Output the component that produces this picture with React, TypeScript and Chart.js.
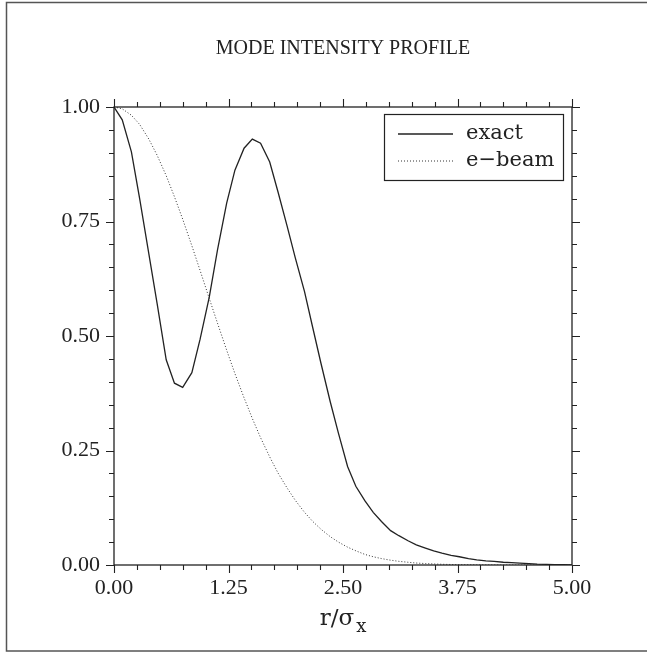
import React, { useEffect, useRef } from "react";
import { Chart, registerables } from "chart.js";

Chart.register(...registerables);

// ---- data ----
const rValues = [
  0.0, 0.09, 0.19, 0.28, 0.38, 0.47, 0.57, 0.66, 0.75, 0.85, 0.94, 1.04, 1.13, 1.23,
  1.32, 1.42, 1.51, 1.6, 1.7, 1.79, 1.89, 1.98, 2.08, 2.17, 2.26, 2.36, 2.45, 2.55,
  2.64, 2.74, 2.83, 2.92, 3.02, 3.11, 3.21, 3.3, 3.4, 3.49, 3.58, 3.68, 3.77, 3.87,
  3.96, 4.06, 4.15, 4.25, 4.34, 4.43, 4.53, 4.62, 4.72, 4.81, 4.91, 5.0,
];

const exactValues = [
  1.0, 0.972, 0.902, 0.8, 0.68, 0.572, 0.448, 0.397, 0.388, 0.42, 0.493, 0.585, 0.688, 0.79,
  0.862, 0.91, 0.93, 0.921, 0.88, 0.815, 0.74, 0.67, 0.597, 0.518, 0.44, 0.357, 0.288, 0.215,
  0.172, 0.14, 0.115, 0.095, 0.075, 0.064, 0.053, 0.044, 0.037, 0.031, 0.026, 0.021, 0.018, 0.014,
  0.011, 0.009, 0.008, 0.006, 0.005, 0.004, 0.003, 0.002, 0.0015, 0.001, 0.0005, 0.0,
];

const ebeamValues = [
  1.0, 0.996, 0.982, 0.962, 0.93, 0.895, 0.85, 0.804, 0.755, 0.697, 0.643, 0.582, 0.528, 0.469,
  0.418, 0.365, 0.32, 0.278, 0.236, 0.201, 0.168, 0.141, 0.115, 0.095, 0.078, 0.062, 0.05, 0.039,
  0.031, 0.023, 0.018, 0.014, 0.0105, 0.008, 0.006, 0.0043, 0.0031, 0.0023, 0.0016, 0.0011, 0.0008, 0.0006,
  0.0004, 0.0003, 0.0002, 0.0001, 0.0001, 0.0, 0.0, 0.0, 0.0, 0.0, 0.0, 0.0,
];

const xTickLabels = ["0.00", "1.25", "2.50", "3.75", "5.00"];
const yTickLabels = ["0.00", "0.25", "0.50", "0.75", "1.00"];
const seriesLabels = ["exact", "e\u2212beam"];
const titleText = "MODE INTENSITY PROFILE";
const xAxisMain = "r/\u03c3";
const xAxisSub = "x";

const INK = "#222222";
const LEGEND_FONT = "21px 'DejaVu Serif'";
const TITLE_FONT = "20px 'Liberation Serif'";

const decorPlugin = {
  id: "decor",
  afterDraw(chart: any) {
    const ctx: CanvasRenderingContext2D = chart.ctx;
    const { left, right, top, bottom } = chart.chartArea;
    const xs = chart.scales.x;
    const ys = chart.scales.y;
    ctx.save();

    // outer frame
    ctx.strokeStyle = "#555";
    ctx.lineWidth = 1.5;
    ctx.strokeRect(6.5, 2.5, 700, 648.5);

    // plot frame
    ctx.strokeStyle = INK;
    ctx.lineWidth = 1.3;
    ctx.strokeRect(left, top, right - left, bottom - top);

    // ticks (outward), major every 5th
    ctx.lineWidth = 1.1;
    ctx.beginPath();
    for (let i = 0; i <= 20; i++) {
      const v = xs.min + ((xs.max - xs.min) * i) / 20;
      const px = Math.round(xs.getPixelForValue(v)) + 0.5;
      const len = i % 5 === 0 ? 8 : 5;
      ctx.moveTo(px, bottom);
      ctx.lineTo(px, bottom + len);
      ctx.moveTo(px, top);
      ctx.lineTo(px, top - len);
    }
    for (let i = 0; i <= 20; i++) {
      const v = ys.min + ((ys.max - ys.min) * i) / 20;
      const py = Math.round(ys.getPixelForValue(v)) + 0.5;
      const len = i % 5 === 0 ? 8 : 5;
      ctx.moveTo(left, py);
      ctx.lineTo(left - len, py);
      ctx.moveTo(right, py);
      ctx.lineTo(right + len, py);
    }
    ctx.stroke();

    // title
    const cx = (left + right) / 2;
    ctx.fillStyle = INK;
    ctx.font = TITLE_FONT;
    ctx.textAlign = "center";
    ctx.textBaseline = "alphabetic";
    ctx.fillText(titleText, cx, 54);

    // x axis title with subscript
    ctx.font = "23px 'DejaVu Serif'";
    const wMain = ctx.measureText(xAxisMain).width;
    ctx.font = "18px 'DejaVu Serif'";
    const wSub = ctx.measureText(xAxisSub).width;
    const startX = cx - (wMain + wSub + 2) / 2;
    ctx.textAlign = "left";
    ctx.font = "23px 'DejaVu Serif'";
    ctx.fillText(xAxisMain, startX, 625);
    ctx.font = "18px 'DejaVu Serif'";
    ctx.fillText(xAxisSub, startX + wMain + 2, 632);

    // legend
    const bx = right - 8.5 - 179;
    const by = top + 7.5;
    ctx.fillStyle = "#ffffff";
    ctx.fillRect(bx, by, 179, 66);
    ctx.strokeStyle = INK;
    ctx.lineWidth = 1.2;
    ctx.strokeRect(bx, by, 179, 66);
    const ds = chart.data.datasets;
    const rowsY = [by + 19.5, by + 46.5];
    ds.forEach((d: any, i: number) => {
      ctx.save();
      ctx.strokeStyle = d.borderColor;
      ctx.lineWidth = d.borderWidth;
      ctx.setLineDash(d.borderDash || []);
      ctx.beginPath();
      ctx.moveTo(bx + 13.5, rowsY[i]);
      ctx.lineTo(bx + 68.5, rowsY[i]);
      ctx.stroke();
      ctx.restore();
      ctx.fillStyle = INK;
      ctx.font = LEGEND_FONT;
      ctx.textAlign = "left";
      ctx.textBaseline = "middle";
      ctx.fillText(d.label, bx + 81.5, rowsY[i]);
    });

    ctx.restore();
  },
};

export default function App() {
  const canvasRef = useRef<HTMLCanvasElement | null>(null);

  useEffect(() => {
    const canvas = canvasRef.current;
    if (!canvas) return;
    const chart = new Chart(canvas, {
      type: "line",
      data: {
        datasets: [
          {
            label: seriesLabels[0],
            data: rValues.map((r, i) => ({ x: r, y: exactValues[i] })),
            borderColor: INK,
            borderWidth: 1.3,
            pointRadius: 0,
            tension: 0,
            fill: false,
          },
          {
            label: seriesLabels[1],
            data: rValues.map((r, i) => ({ x: r, y: ebeamValues[i] })),
            borderColor: "#333333",
            borderWidth: 1,
            borderDash: [1, 2],
            pointRadius: 0,
            tension: 0,
            fill: false,
          },
        ],
      },
      options: {
        responsive: false,
        animation: false,
        devicePixelRatio: 1,
        layout: { padding: { left: 0, top: 107, right: 75, bottom: 0 } },
        plugins: {
          legend: { display: false },
          title: { display: false },
          tooltip: { enabled: false },
        },
        scales: {
          x: {
            type: "linear",
            min: 0,
            max: 5,
            grid: { display: false, drawTicks: false },
            border: { display: false },
            ticks: {
              stepSize: 1.25,
              padding: 10,
              color: INK,
              font: { family: "'Liberation Serif'", size: 22 },
              maxRotation: 0,
              autoSkip: false,
              callback: (v: any) => xTickLabels[Math.round(Number(v) / 1.25)] ?? "",
            },
            afterFit: (s: any) => {
              s.height = 87;
            },
          },
          y: {
            type: "linear",
            min: 0,
            max: 1,
            grid: { display: false, drawTicks: false },
            border: { display: false },
            ticks: {
              stepSize: 0.25,
              padding: 14,
              color: INK,
              font: { family: "'Liberation Serif'", size: 22 },
              autoSkip: false,
              callback: (v: any) => yTickLabels[Math.round(Number(v) / 0.25)] ?? "",
            },
            afterFit: (s: any) => {
              s.width = 114;
            },
          },
        },
      },
      plugins: [decorPlugin],
    });
    return () => chart.destroy();
  }, []);

  return (
    <div style={{ position: "absolute", left: 0, top: 0, width: 647, height: 652, background: "#fff" }}>
      <canvas ref={canvasRef} width={647} height={652} style={{ display: "block" }} />
    </div>
  );
}
